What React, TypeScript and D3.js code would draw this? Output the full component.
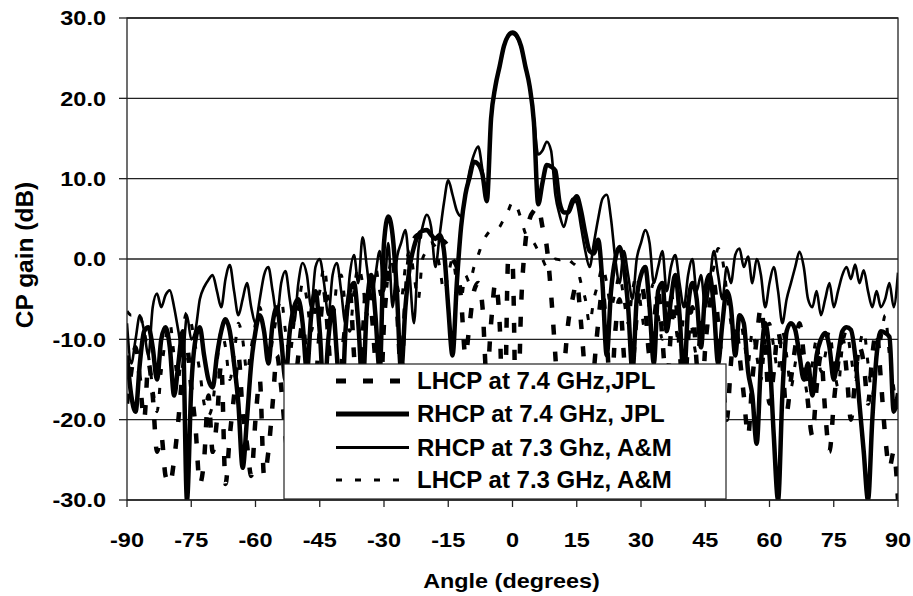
import React from 'react';
import * as d3 from 'd3';

// Measurement angles (degrees), one sample per degree
const ANGLES = d3.range(-90, 91, 1);

const X_TICKS = [-90, -75, -60, -45, -30, -15, 0, 15, 30, 45, 60, 75, 90];
const Y_TICKS = [-30, -20, -10, 0, 10, 20, 30];

// RHCP at 7.4 GHz, JPL (thick solid)
const RHCP_JPL = [
  -12, -17, -19, -13, -9, -8.5, -11, -15, -10, -8.5,
  -11, -17, -13, -9, -30, -16, -10, -8.5, -12, -15,
  -16, -12, -9, -7.5, -9, -13, -18, -26, -20, -13,
  -9, -7, -9, -13, -8, -6, -10, -15, -9, -6,
  -5, -8, -14, -7, -4, -9, -17, -10, -6, -12,
  -20, -9, -4, -3, -8, -16, -6, -2, -7, -14,
  2, 5.3, 3, -4, -14, -6, -1, 1.5, 3, 3.5,
  3.6, 3, 2.5, 3, 1, -6, -12, -3, 4, 8,
  10.2, 12.1, 11.8, 10.5, 7.2, 17.5, 21.5, 24, 26.5, 27.8,
  28.2,
  27.8, 26.5, 24, 21.5, 17, 6.8, 9.5, 11.7, 11.5, 11,
  7, 5.8, 5.8, 7, 7.8, 6, 3.2, 1, 0.7, 2.4,
  -3, -12, -4, 0, 1.5, -1, -6, -14, -5, -2,
  -1, -6, -13, -4, -3, -9, -5, -2, -7, -15,
  -6, -3, -5, -11, -4, -2, -6, -13, -8, -4,
  -6, -12, -7, -8, -14, -17, -23, -13, -8, -12,
  -22, -30, -17, -9, -8, -8.8, -12, -15, -13, -17,
  -12, -10, -9.2, -11, -15, -12, -9, -8.5, -8.8, -12,
  -18, -24, -30, -20, -12, -9, -9.2, -9.7, -19, -16.7,
];

// RHCP at 7.3 GHz, A&M (thin solid)
const RHCP_AM = [
  -8, -13, -10, -7, -9, -12, -6, -4.3, -6, -4.5,
  -3.9, -6, -9, -12, -7, -10, -8.8, -5, -3.5, -2.6,
  -2, -4, -6, -2.5, -0.75, -4, -7, -5, -3, -6,
  -8, -5, -2, -1, -4, -7, -3, -1.5, -5, -8,
  -3, -0.5, -2, -6, -1, 0, -3, -7, -2, -0.5,
  -4, -8, -2, 0.5, -3, 2.7, -1, -5, -2, 1,
  -4, 2, -6, 0, 2, 3.6, -2, -8, 1, 4,
  5.5, 4, -1, 3, 7, 9.8, 8, 6, 5.3, 8,
  11, 13, 14, 11, 7.5, 17.5, 21.5, 24, 26.5, 27.8,
  28,
  27.6, 26.3, 24, 21.5, 17.5, 13, 13.5, 14.6, 13.5, 8,
  5.5, 4, 6, 7.5, 7, 4, 1, -1, 2, 5,
  7.5, 8, 5, 0, -3, 1, -2, -5, 0, 2,
  3.6, 2, -3, -1, 1, -4, -1, 0.5, -3, -6,
  -2, 0, -4, -2, -6, -3, 1, -2, -5, -1,
  -3, 0.5, 1.3, -1, 0.3, -3, 0, -2, -6, -3,
  -1, -4, -8, -5, -3, -1, 0.9, -1, -5, -6,
  -4, -7, -5, -3, -6, -4, -2, -1, -2.5, -0.7,
  -3, -1.4, -4, -6, -4, -6, -5, -3, -6, -1.7,
];

// LHCP at 7.4 GHz, JPL (thick dashed)
const LHCP_JPL = [
  -18, -14, -11, -15, -20, -13, -17, -24, -22, -27,
  -28, -25, -20, -14, -11, -16, -21, -28, -25, -17,
  -24, -20, -13, -28, -22, -17, -12, -19, -23, -27,
  -20, -15, -27, -24, -18, -12, -16, -22, -26, -18,
  -12, -8, -14, -20, -16, -9, -4, -10, -18, -24,
  -14, -8, -4, -12, -20, -10, -3, -6, -13, -20,
  -8, -2, 0, -6, -14, -5, 1, 2.5, 3, 2.8,
  3, 2.8, 2.6, 2.4, 2.2, 1.5, 0, -1, -5, -12,
  -8, -4, -3, -6, -15, -8, -3, -8, -25, 0,
  -0.5,
  -25, -6, 2, 5, 6, 6.5, 4, 1.5, -4.3, -12,
  -20, -14, -8, -5, -3, -8, -15, -22, -14, -8,
  -4, -10, -17, -9, -5, -12, -20, -14, -7, -3,
  -6, -12, -8, -4, -10, -16, -9, -5, -11, -18,
  -10, -6, -13, -19, -11, -6, -3, -8, -14, -20,
  -13, -8, -12, -17, -22, -15, -10, -6, -11, -18,
  -14, -9, -13, -19, -15, -11, -8, -12, -18, -22,
  -16, -12, -19, -24, -18, -13, -10, -14, -20, -15,
  -11, -13, -18, -12, -9, -15, -22, -26, -24, -30,
];

// LHCP at 7.3 GHz, A&M (thin dotted)
const LHCP_AM = [
  -6.5, -7, -6.6, -7, -9, -12, -16, -19, -14, -10,
  -8, -12, -15, -9, -6.7, -8, -11, -14, -18, -19.5,
  -18, -13, -9, -11, -15, -12, -8, -10, -14, -11,
  -8, -6, -9, -13, -10, -7, -5, -9, -12, -8,
  -6, -3, -5, -9, -6, -4, -1, -5, -8, -3,
  -2, -6, -9, -4, -1, -3, -7, -3, -1, -4,
  -6, -2, 0, -3, -5, -1, 1, -2, -5, 0,
  1, 2, 1.5, -1, -4, -2, 0, -3, -5, -2,
  -3, -1, 0.5, 2, 3, 3.5, 3.5, 4, 5, 6,
  7.1,
  6.5, 5, 3.2, 2.4, 2, 1, 0, -1, -0.5, 0,
  -0.1, 0.3, 0, -0.5, -1, -3, -5, -8, -5, -3,
  -1, -3, -6, -4, -2, -5, -8, -4, -2, -6,
  -9, -5, -3, -7, -10, -6, -4, -8, -11, -7,
  -5, -9, -12, -8, -5, -3, -1, 1.3, 0, -4,
  -8, -11, -7, -10, -13, -9, -12, -15, -10, -8,
  -11, -14, -9, -12, -16, -13, -10, -14, -17, -13,
  -10, -14, -12, -9, -13, -16, -11, -9, -12, -15,
  -11, -9, -13, -17, -12, -10, -7, -12, -16, -20,
];

const SERIES = [
  { name: 'LHCP at 7.4 GHz,JPL', values: LHCP_JPL, width: 4.5, dash: '10,17' },
  { name: 'RHCP at 7.4 GHz, JPL', values: RHCP_JPL, width: 4.5, dash: null },
  { name: 'RHCP at 7.3 Ghz, A&M', values: RHCP_AM, width: 2.6, dash: null },
  { name: 'LHCP at 7.3 GHz, A&M', values: LHCP_AM, width: 3, dash: '6,13' },
];
const DRAW_ORDER = [3, 0, 2, 1];

const W = 913;
const H = 596;
const L = 127, R = 898, T = 18, B = 500;
const FONT = '"Liberation Sans", Arial, Helvetica, sans-serif';

export default function App() {
  const x = d3.scaleLinear().domain([-90, 90]).range([L, R]);
  const y = d3.scaleLinear().domain([-30, 30]).range([B, T]);
  const line = d3
    .line<[number, number]>()
    .x((d) => x(d[0]))
    .y((d) => y(d[1]))
    .curve(d3.curveMonotoneX);

  const legendX = 284, legendY = 364, legendW = 442, legendH = 135;
  const rowBase = [389, 422, 455.5, 488];

  return (
    <svg width={W} height={H} style={{ position: 'absolute', left: 0, top: 0, background: '#fff' }}>
      <defs>
        <clipPath id="plotClip">
          <rect x={L} y={T} width={R - L} height={B - T} />
        </clipPath>
      </defs>
      <rect x={0} y={0} width={W} height={H} fill="#fff" />
      {/* gridlines */}
      {Y_TICKS.map((t) => (
        <line key={'g' + t} x1={L} x2={R} y1={y(t)} y2={y(t)} stroke="#222" strokeWidth={1.3} />
      ))}
      {/* series */}
      <g clipPath="url(#plotClip)">
        {DRAW_ORDER.map((i) => {
          const s = SERIES[i];
          const pts = ANGLES.map((a, k) => [a, s.values[k]] as [number, number]);
          return (
            <path
              key={s.name}
              d={line(pts) || ''}
              fill="none"
              stroke="#000"
              strokeWidth={s.width}
              strokeDasharray={s.dash || undefined}
              strokeLinejoin="round"
            />
          );
        })}
      </g>
      {/* frame */}
      <rect x={L} y={T} width={R - L} height={B - T} fill="none" stroke="#222" strokeWidth={1.3} />
      {/* y ticks */}
      {Y_TICKS.map((t) => (
        <g key={'yt' + t}>
          <line x1={L - 8} x2={L} y1={y(t)} y2={y(t)} stroke="#222" strokeWidth={1.3} />
          <text
            transform={`translate(106,${y(t) + 7.3}) scale(1.12,1)`}
            textAnchor="end"
            fontFamily={FONT}
            fontWeight="bold"
            fontSize={21}
          >
            {t.toFixed(1)}
          </text>
        </g>
      ))}
      {/* x ticks */}
      {X_TICKS.map((t) => (
        <g key={'xt' + t}>
          <line x1={x(t)} x2={x(t)} y1={B} y2={B + 7} stroke="#222" strokeWidth={1.3} />
          <text
            transform={`translate(${x(t)},547) scale(1.12,1)`}
            textAnchor="middle"
            fontFamily={FONT}
            fontWeight="bold"
            fontSize={21}
          >
            {t}
          </text>
        </g>
      ))}
      {/* axis titles */}
      <text
        transform={`translate(${(L + R) / 2 - 1},588) scale(1.17,1)`}
        textAnchor="middle"
        fontFamily={FONT}
        fontWeight="bold"
        fontSize={20}
      >
        Angle (degrees)
      </text>
      <text
        transform={`translate(33,255) rotate(-90)`}
        textAnchor="middle"
        fontFamily={FONT}
        fontWeight="bold"
        fontSize={24.5}
      >
        CP gain (dB)
      </text>
      {/* legend */}
      <rect x={legendX} y={legendY} width={legendW} height={legendH} fill="#fff" stroke="#222" strokeWidth={1.2} />
      {SERIES.map((s, i) => (
        <g key={'lg' + i}>
          <line
            x1={336}
            x2={409}
            y1={rowBase[i] - 8}
            y2={rowBase[i] - 8}
            stroke="#000"
            strokeWidth={i === 1 ? 5 : i === 0 ? 5 : 3}
            strokeDasharray={s.dash || undefined}
          />
          <text x={417} y={rowBase[i]} fontFamily={FONT} fontWeight="bold" fontSize={24}>
            {s.name}
          </text>
        </g>
      ))}
    </svg>
  );
}
